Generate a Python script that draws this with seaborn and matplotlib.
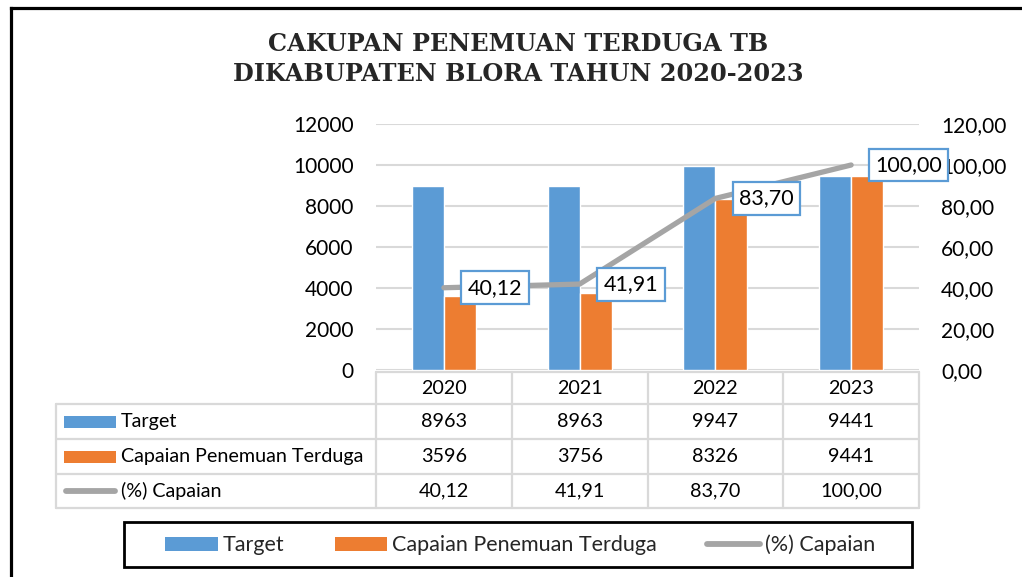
import numpy as np
import pandas as pd
import matplotlib
matplotlib.use("Agg")
import matplotlib.pyplot as plt
import seaborn as sns
from matplotlib.lines import Line2D
from matplotlib.patches import Patch, Rectangle

# data
tahun = ["2020", "2021", "2022", "2023"]
target = [8963, 8963, 9947, 9441]
capaian = [3596, 3756, 8326, 9441]
persen = [40.12, 41.91, 83.70, 100.00]
seri = ["Target", "Capaian Penemuan Terduga", "(%) Capaian"]

BLUE = "#5B9BD5"
ORANGE = "#ED7D31"
GREY = "#A5A5A5"
GRID = "#D9D9D9"

sns.set_theme(style="white")
plt.rcParams["font.family"] = ["Lato", "DejaVu Sans"]

W, H = 1022, 577
fig = plt.figure(figsize=(W / 100, H / 100), dpi=100)

def fx(px):
    return px / W

def fy(py):
    return 1 - py / H

def koma(v):
    return f"{v:.2f}".replace(".", ",")

# plot area
x0, x1, ytop, ybot = 376, 919, 124, 370
ax = fig.add_axes([fx(x0), fy(ybot), fx(x1 - x0), fy(ytop) - fy(ybot)])

df = pd.DataFrame({"Tahun": tahun * 2,
                   "Nilai": target + capaian,
                   "Seri": [seri[0]] * 4 + [seri[1]] * 4})
sns.barplot(data=df, x="Tahun", y="Nilai", hue="Seri", palette=[BLUE, ORANGE],
            width=0.47, saturation=1, ax=ax, legend=False, zorder=3)
ax.set_xlim(-0.5, len(tahun) - 0.5)
ax.set_ylim(0, 12000)
ax.set_yticks(np.arange(0, 12001, 2000))
ax.set_yticklabels([str(v) for v in range(0, 12001, 2000)], fontsize=15)
ax.set_xticks([])
ax.set_xlabel("")
ax.set_ylabel("")
ax.grid(axis="y", color=GRID, lw=1.5, zorder=0)
ax.set_axisbelow(True)
ax.tick_params(axis="y", length=0, pad=16, colors="black")
for s in ax.spines.values():
    s.set_visible(False)

ax2 = ax.twinx()
sns.lineplot(x=np.arange(len(tahun)), y=persen, ax=ax2, color=GREY, lw=3.8,
             solid_capstyle="round", zorder=4)
ax2.set_ylim(0, 120)
ax2.set_yticks(np.arange(0, 121, 20))
ax2.set_yticklabels([koma(v) for v in range(0, 121, 20)], fontsize=15)
ax2.tick_params(axis="y", length=0, pad=16, colors="black")
ax2.set_ylabel("")
for s in ax2.spines.values():
    s.set_visible(False)

for i, v in enumerate(persen):
    ax2.annotate(koma(v), xy=(i, v), xytext=(24, 0), textcoords="offset pixels",
                 ha="left", va="center", fontsize=15.5, color="black", zorder=6,
                 bbox=dict(boxstyle="square,pad=0.3", fc="white", ec=BLUE, lw=1.6))

# title
fig.text(fx(518), fy(59), "CAKUPAN PENEMUAN TERDUGA TB\nDIKABUPATEN BLORA TAHUN 2020-2023",
         ha="center", va="center", fontsize=17.3, fontweight="bold",
         family="DejaVu Serif", linespacing=1.28)

# data table
rows = [372, 404, 439, 474, 508]
tl = 56
colw = (x1 - x0) / len(tahun)
lk = dict(color=GRID, lw=1.6, transform=fig.transFigure, zorder=1)
fig.add_artist(Line2D([fx(x0), fx(x1)], [fy(rows[0])] * 2, **lk))
for r in rows[1:]:
    fig.add_artist(Line2D([fx(tl), fx(x1)], [fy(r)] * 2, **lk))
fig.add_artist(Line2D([fx(tl)] * 2, [fy(rows[1]), fy(rows[-1])], **lk))
for k in range(len(tahun) + 1):
    xx = x0 + k * colw
    fig.add_artist(Line2D([fx(xx)] * 2, [fy(rows[0]), fy(rows[-1])], **lk))

table_vals = [tahun, [str(v) for v in target], [str(v) for v in capaian],
              [koma(v) for v in persen]]
for r, vals in enumerate(table_vals):
    yc = (rows[r] + rows[r + 1]) / 2
    for k, t in enumerate(vals):
        fig.text(fx(x0 + (k + 0.5) * colw), fy(yc), t, ha="center", va="center",
                 fontsize=14.2, color="black")

for r, (name, col) in enumerate(zip(seri, [BLUE, ORANGE, GREY])):
    yc = (rows[r + 1] + rows[r + 2]) / 2
    if r < 2:
        fig.add_artist(Rectangle((fx(64), fy(yc + 6)), fx(52), fy(yc - 6) - fy(yc + 6),
                                 fc=col, ec="none", transform=fig.transFigure))
    else:
        fig.add_artist(Line2D([fx(66), fx(115)], [fy(yc)] * 2, color=col, lw=4.2,
                              solid_capstyle="round", transform=fig.transFigure))
    fig.text(fx(121), fy(yc), name, ha="left", va="center", fontsize=14.2, color="black")

# legend
fig.add_artist(Rectangle((fx(124), fy(567)), fx(912 - 124), fy(522) - fy(567),
                         fc="white", ec="black", lw=2, transform=fig.transFigure))
handles = [Patch(fc=BLUE, ec="none"), Patch(fc=ORANGE, ec="none"),
           Line2D([0], [0], color=GREY, lw=4.2, solid_capstyle="round")]
fig.legend(handles, seri, loc="center", bbox_to_anchor=(fx(520), fy(545)), ncol=3,
           frameon=False, fontsize=15.5, handlelength=2.45, handletextpad=0.22,
           columnspacing=2.35, handleheight=0.62)

# outer border
bk = dict(color="black", lw=2.3, transform=fig.transFigure, solid_capstyle="projecting")
fig.add_artist(Line2D([fx(10.5), fx(10.5)], [fy(7.5), 0], **bk))
fig.add_artist(Line2D([fx(10.5), 1], [fy(7.5), fy(7.5)], **bk))

fig.savefig("out.png", dpi=100)
